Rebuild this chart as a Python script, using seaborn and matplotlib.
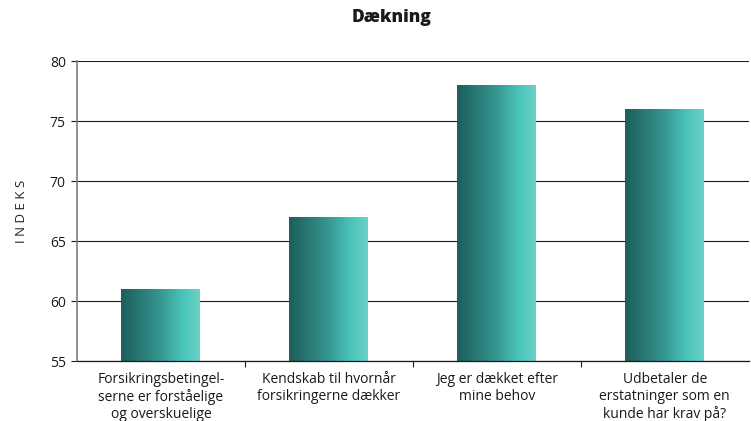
import numpy as np
import pandas as pd
import matplotlib
matplotlib.use("Agg")
import matplotlib.pyplot as plt
from matplotlib.colors import LinearSegmentedColormap
import seaborn as sns

categories = [
    "Forsikringsbetingel-\nserne er forståelige\nog overskuelige",
    "Kendskab til hvornår\nforsikringerne dækker",
    "Jeg er dækket efter\nmine behov",
    "Udbetaler de\nerstatninger som en\nkunde har krav på?",
]
values = [61, 67, 78, 76]
y_ticks = [55, 60, 65, 70, 75, 80]
y_min, y_max = 55, 80

sns.set_theme(style="white")
plt.rcParams["font.family"] = ["Open Sans", "DejaVu Sans"]

df = pd.DataFrame({"kategori": categories, "indeks": values})

fig = plt.figure(figsize=(7.51, 4.21), dpi=100)
ax = fig.add_axes([0.1025, 0.1425, 0.8945, 0.7125])

sns.barplot(data=df, x="kategori", y="indeks", ax=ax, width=0.47,
            color="#3aa9a0", edgecolor="none", zorder=3)

ax.set_ylim(y_min, y_max)
ax.set_xlim(-0.5, 3.5)
ax.set_yticks(y_ticks)
ax.grid(axis="y", color="#1a1a1a", linewidth=0.8, zorder=0)
ax.set_axisbelow(True)

# horizontal teal gradient painted inside each bar (visible part only)
grad = LinearSegmentedColormap.from_list(
    "teal", [(0.0, "#1e5e5b"), (0.45, "#33908a"), (0.78, "#48c4b9"), (1.0, "#6dd0c6")])
ramp = np.linspace(0, 1, 256).reshape(1, -1)
for patch in list(ax.patches):
    x0, w = patch.get_x(), patch.get_width()
    top = patch.get_y() + patch.get_height()
    ax.imshow(ramp, cmap=grad, aspect="auto", extent=[x0, x0 + w, y_min, top],
              zorder=4, interpolation="bilinear")
ax.set_ylim(y_min, y_max)
ax.set_xlim(-0.5, 3.5)

for s in ["top", "right"]:
    ax.spines[s].set_visible(False)
ax.spines["left"].set_color("#808080")
ax.spines["left"].set_linewidth(1.2)
ax.spines["bottom"].set_color("#1a1a1a")
ax.spines["bottom"].set_linewidth(0.9)
ax.spines["left"].set_zorder(5)
ax.spines["bottom"].set_zorder(5)

ax.set_xlabel("")
ax.set_ylabel("I N D E K S", fontsize=9.5, color="#222222", labelpad=16)
ax.tick_params(axis="y", left=True, length=4, width=0.8, color="#1a1a1a",
               labelsize=10, labelcolor="#1a1a1a", pad=4)
ax.tick_params(axis="x", bottom=False, labelsize=10, labelcolor="#1a1a1a", pad=2)
ax.set_xticks(range(len(categories)))
ax.set_xticklabels(categories, linespacing=1.18)
ax.set_xticks([0.5, 1.5, 2.5], minor=True)
ax.tick_params(axis="x", which="minor", bottom=True, length=4, width=0.8, color="#1a1a1a")

fig.text(392 / 751, 1 - 17 / 421, "Dækning", ha="center", va="center",
         fontsize=12.5, fontweight="heavy", color="#1a1a1a")

fig.savefig("out.png", dpi=100, facecolor="white")
